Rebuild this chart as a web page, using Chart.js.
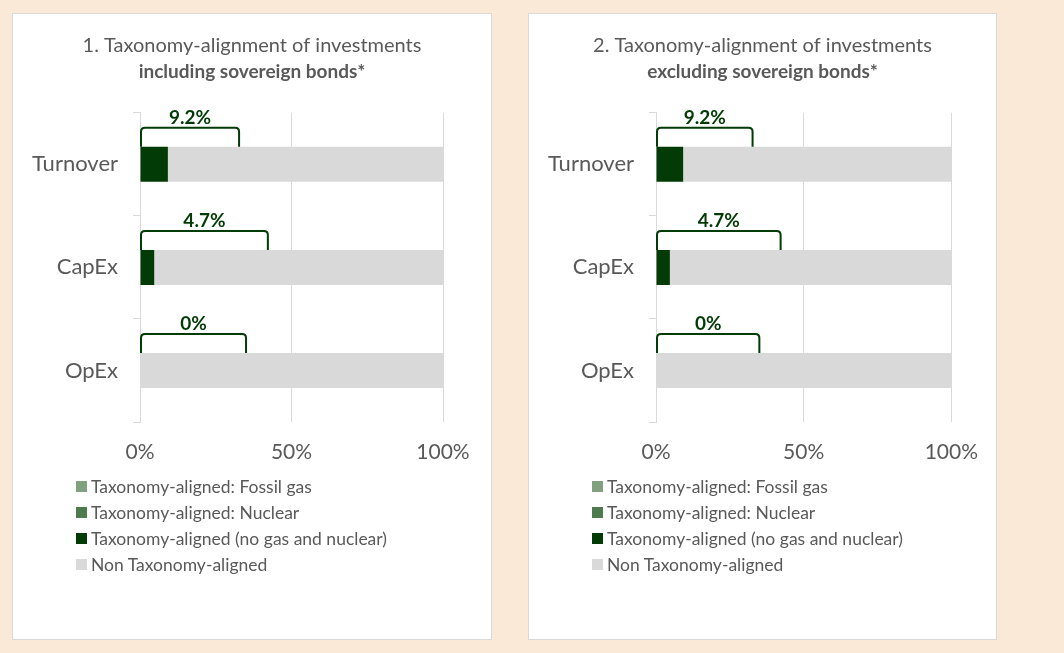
<!DOCTYPE html>
<html>
<head>
<meta charset="utf-8">
<script src="https://cdn.jsdelivr.net/npm/chart.js@4.4.1/dist/chart.umd.min.js"></script>
<style>
  html, body { margin: 0; padding: 0; background: #FBE9D8; }
  body { width: 1064px; height: 653px; position: relative; overflow: hidden; font-family: Lato, sans-serif; }
  .panel { position: absolute; top: 13px; height: 627px; background: #fff; border: 1px solid #D9D9D9; box-sizing: border-box; }
  .panel canvas { position: absolute; left: 0; top: 0; }
  .legend { position: absolute; left: 63px; top: 459px; color: #595959; font-size: 17.5px; }
  .legend .row { height: 26px; display: flex; align-items: center; white-space: nowrap; }
  .legend .box { width: 11px; height: 11px; margin-right: 4px; display: inline-block; }
</style>
</head>
<body>
<div class="panel" id="panel1" style="left:12px; width:480px;">
  <canvas id="chart1" width="478" height="460"></canvas>
  <div class="legend" id="legend1"></div>
</div>
<div class="panel" id="panel2" style="left:528px; width:469px;">
  <canvas id="chart2" width="467" height="460"></canvas>
  <div class="legend" id="legend2"></div>
</div>
<script>
// categories and series (percent of investments)
const categories = ['Turnover', 'CapEx', 'OpEx'];
const seriesNames = [
  'Taxonomy-aligned: Fossil gas',
  'Taxonomy-aligned: Nuclear',
  'Taxonomy-aligned (no gas and nuclear)',
  'Non Taxonomy-aligned'
];
const seriesColors = ['#80A080', '#4E7A50', '#023B06', '#D9D9D9'];

// chart 1: including sovereign bonds
const fossilGas1 = [0, 0, 0];
const nuclear1 = [0, 0, 0];
const aligned1 = [9.2, 4.7, 0];
const nonAligned1 = [90.8, 95.3, 100];

// chart 2: excluding sovereign bonds
const fossilGas2 = [0, 0, 0];
const nuclear2 = [0, 0, 0];
const aligned2 = [9.2, 4.7, 0];
const nonAligned2 = [90.8, 95.3, 100];

// how far the bracket over each bar reaches (axis %)
const bracketSpan = [32.7, 42.2, 35];

const xTicks = [0, 50, 100];

const textColor = '#595959';
const green = '#023B06';
const fontFamily = 'Lato, sans-serif';

const bracketPlugin = {
  id: 'brackets',
  afterDatasetsDraw(chart, args, opts) {
    const ctx = chart.ctx;
    const xs = chart.scales.x;
    const meta = chart.getDatasetMeta(3);
    ctx.save();
    ctx.strokeStyle = green;
    ctx.lineWidth = 2;
    ctx.fillStyle = green;
    ctx.font = 'bold 19px ' + fontFamily;
    ctx.textAlign = 'center';
    ctx.textBaseline = 'middle';
    meta.data.forEach((bar, i) => {
      const p = bar.getProps(['y', 'height'], true);
      const yBottom = p.y - p.height / 2;
      const yTop = yBottom - 19;
      const x0 = xs.getPixelForValue(0) + 1;
      const x1 = xs.getPixelForValue(opts.spans[i]);
      const r = 4;
      ctx.beginPath();
      ctx.moveTo(x0, yBottom);
      ctx.lineTo(x0, yTop + r);
      ctx.quadraticCurveTo(x0, yTop, x0 + r, yTop);
      ctx.lineTo(x1 - r, yTop);
      ctx.quadraticCurveTo(x1, yTop, x1, yTop + r);
      ctx.lineTo(x1, yBottom);
      ctx.stroke();
      ctx.fillText(opts.labels[i], (x0 + x1) / 2, yTop - 10);
    });
    ctx.restore();
  }
};

function makeChart(canvasId, legendId, title, subtitle, series, rightGap) {
  const datasets = series.map((values, k) => ({
    label: seriesNames[k],
    data: values,
    backgroundColor: seriesColors[k],
    borderWidth: 0,
    categoryPercentage: 1,
    barPercentage: 0.34
  }));

  const chart = new Chart(document.getElementById(canvasId), {
    type: 'bar',
    data: { labels: categories, datasets: datasets },
    options: {
      indexAxis: 'y',
      responsive: false,
      animation: false,
      layout: { padding: 0 },
      scales: {
        x: {
          stacked: true,
          min: 0,
          max: 100,
          afterBuildTicks: (scale) => { scale.ticks = xTicks.map(v => ({ value: v })); },
          afterFit: (scale) => { scale.height = 52; },
          grid: { color: '#D9D9D9', lineWidth: 1, drawTicks: false },
          border: { display: false },
          ticks: {
            padding: 18,
            color: textColor,
            font: { family: fontFamily, size: 21 },
            callback: (v) => v + '%'
          }
        },
        y: {
          stacked: true,
          afterFit: (scale) => { scale.width = 127; },
          grid: { drawOnChartArea: false, drawTicks: true, tickLength: 7, color: '#D9D9D9', offset: true },
          border: { display: true, color: '#D9D9D9' },
          ticks: {
            padding: 15,
            color: textColor,
            font: { family: fontFamily, size: 22 }
          }
        },
        // empty right-hand axis, only keeps the white margin right of the plot
        gap: {
          type: 'category',
          axis: 'y',
          position: 'right',
          afterFit: (scale) => { scale.width = rightGap; },
          grid: { display: false },
          border: { display: false },
          ticks: { display: false }
        }
      },
      plugins: {
        legend: { display: false },
        tooltip: { enabled: false },
        title: {
          display: true,
          text: title,
          color: textColor,
          font: { family: fontFamily, size: 20, weight: 'normal' },
          padding: { top: 20, bottom: 2 }
        },
        subtitle: {
          display: true,
          text: subtitle,
          color: textColor,
          font: { family: fontFamily, size: 19, weight: 'bold' },
          padding: { top: 0, bottom: 30 }
        },
        brackets: {
          spans: bracketSpan,
          labels: series[2].map(v => v + '%')
        }
      }
    },
    plugins: [bracketPlugin]
  });

  // legend as a plain list, one series per line
  const legend = document.getElementById(legendId);
  chart.data.datasets.forEach(ds => {
    const row = document.createElement('div');
    row.className = 'row';
    const box = document.createElement('span');
    box.className = 'box';
    box.style.background = ds.backgroundColor;
    row.appendChild(box);
    row.appendChild(document.createTextNode(ds.label));
    legend.appendChild(row);
  });
  return chart;
}

makeChart('chart1', 'legend1',
  '1. Taxonomy-alignment of investments', 'including sovereign bonds*',
  [fossilGas1, nuclear1, aligned1, nonAligned1], 48);

makeChart('chart2', 'legend2',
  '2. Taxonomy-alignment of investments', 'excluding sovereign bonds*',
  [fossilGas2, nuclear2, aligned2, nonAligned2], 36);
</script>
</body>
</html>
